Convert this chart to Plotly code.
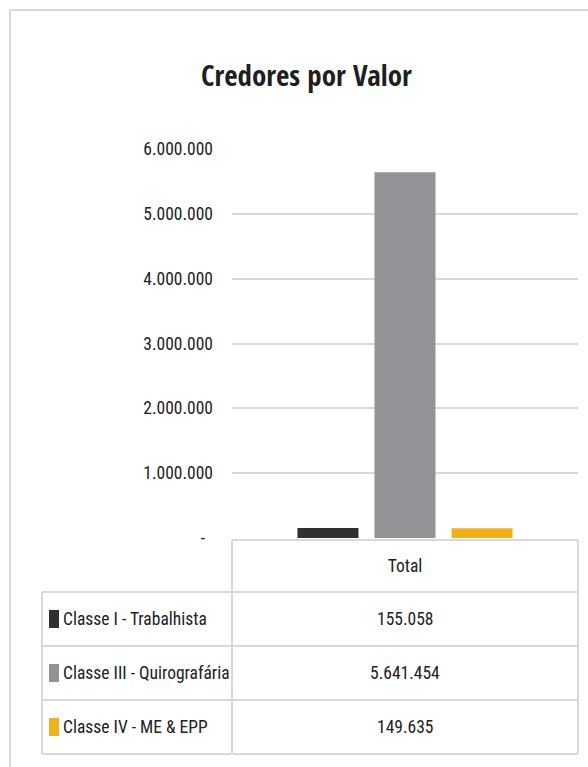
import plotly.graph_objects as go

# Data
category = "Total"
classes = ["Classe I - Trabalhista", "Classe III - Quirografária", "Classe IV - ME & EPP"]
values = [155058, 5641454, 149635]
colors = ["#302e2f", "#929396", "#f0b11e"]
y_ticks = [0, 1000000, 2000000, 3000000, 4000000, 5000000, 6000000]
y_tick_text = ["-\u00a0\u00a0", "1.000.000", "2.000.000", "3.000.000",
               "4.000.000", "5.000.000", "6.000.000"]

W, H = 588, 767
L, R, T, B = 232, 10, 149, 229
PW, PH = W - L - R, H - T - B

FONT = "Roboto Condensed, DejaVu Sans Condensed, sans-serif"
TITLE_FONT = "Open Sans Condensed, Roboto Condensed, sans-serif"
TXT = "#222222"
LINE = "#d9d9d9"
FS = 17.5
WT = 400


def px(x):
    return (x - L) / PW


def py(y):
    return (H - B - y) / PH


def fmt(v):
    return f"{v:,}".replace(",", ".")


fig = go.Figure()
for name, val, col in zip(classes, values, colors):
    fig.add_trace(go.Bar(x=[category], y=[val], name=name, marker_color=col,
                         marker_line_width=0, showlegend=False))

shapes = []


def hline(y, x0, x1):
    shapes.append(dict(type="line", xref="paper", yref="paper", x0=px(x0), x1=px(x1),
                       y0=py(y), y1=py(y), line=dict(color=LINE, width=2)))


def vline(x, y0, y1):
    shapes.append(dict(type="line", xref="paper", yref="paper", x0=px(x), x1=px(x),
                       y0=py(y0), y1=py(y1), line=dict(color=LINE, width=2)))


# outer frame
shapes.append(dict(type="rect", xref="paper", yref="paper", x0=px(10), x1=px(620),
                   y0=py(800), y1=py(10), line=dict(color=LINE, width=2),
                   fillcolor="rgba(0,0,0,0)", layer="below"))

# data table grid
row_edges = [592, 646, 700, 754]
hline(540, L, 578)
for y in row_edges:
    hline(y, 42, 578)
vline(42, 592, 754)
vline(L, 540, 754)
vline(578, 540, 754)

annotations = [dict(text="<b>Credores por Valor</b>", xref="paper", yref="paper",
                    x=px(306), y=py(75), xanchor="center", yanchor="middle",
                    showarrow=False, font=dict(family=TITLE_FONT, size=29, color="#1f1f1f"))]

for i, (name, val, col) in enumerate(zip(classes, values, colors)):
    yc = (row_edges[i] + row_edges[i + 1]) / 2
    shapes.append(dict(type="rect", xref="paper", yref="paper", x0=px(49), x1=px(59),
                       y0=py(yc + 9), y1=py(yc - 9), fillcolor=col, line=dict(width=0)))
    annotations.append(dict(text=name, xref="paper", yref="paper", x=px(61), y=py(yc),
                            xanchor="left", yanchor="middle", showarrow=False,
                            font=dict(family=FONT, size=FS, color=TXT, weight=WT)))
    annotations.append(dict(text=fmt(val), xref="x", yref="paper", x=category, y=py(yc),
                            xanchor="center", yanchor="middle", showarrow=False,
                            font=dict(family=FONT, size=FS, color=TXT, weight=WT)))

fig.update_layout(
    width=W, height=H,
    margin=dict(l=L, r=R, t=T, b=B),
    paper_bgcolor="white", plot_bgcolor="white",
    barmode="group", bargap=0.332, bargroupgap=0.208,
    shapes=shapes, annotations=annotations,
    font=dict(family=FONT, color=TXT),
    xaxis=dict(range=[-0.5, 0.5], showgrid=False, zeroline=False, showline=False,
               ticks="", tickfont=dict(family=FONT, size=FS, color=TXT, weight=WT),
               ticklabelstandoff=15),
    yaxis=dict(range=[0, 6000000], tickvals=y_ticks, ticktext=y_tick_text,
               showgrid=True, gridcolor=LINE, gridwidth=2, zeroline=False,
               showline=False, ticks="", ticklabelstandoff=18,
               tickfont=dict(family=FONT, size=FS, color=TXT, weight=WT)),
)

fig.write_html("out.html")
